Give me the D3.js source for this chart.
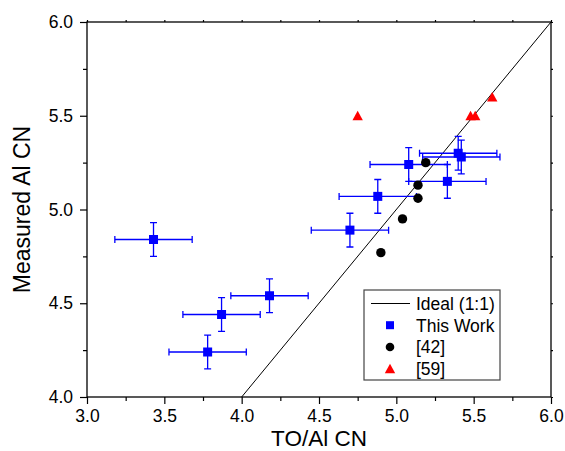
<!DOCTYPE html>
<html>
<head>
<meta charset="utf-8">
<script src="https://cdn.jsdelivr.net/npm/d3@7"></script>
<style>
  html, body { margin: 0; padding: 0; background: #fff; }
  svg { display: block; font-family: "Liberation Sans", Arial, sans-serif; }
</style>
</head>
<body>
<svg id="chart" width="565" height="451"></svg>
<script>
// Measured Al coordination number vs. TO/Al coordination number
const thisWorkX = [3.43, 3.78, 3.87, 4.18, 4.70, 4.88, 5.08, 5.33, 5.40, 5.42];
const thisWorkY = [4.84, 4.24, 4.44, 4.54, 4.89, 5.07, 5.24, 5.15, 5.30, 5.28];
const thisWorkXErr = [0.25, 0.25, 0.25, 0.25, 0.25, 0.25, 0.25, 0.25, 0.25, 0.25];
const thisWorkYErr = [0.09, 0.09, 0.09, 0.09, 0.09, 0.09, 0.09, 0.09, 0.09, 0.09];

const ref42X = [5.19, 5.14, 5.14, 5.04, 4.90];
const ref42Y = [5.25, 5.13, 5.06, 4.95, 4.77];

const ref59X = [4.75, 5.48, 5.51, 5.62];
const ref59Y = [5.50, 5.50, 5.50, 5.60];

const idealX = [4.0, 6.0];
const idealY = [4.0, 6.0];

const majorTicks = [3.0, 3.5, 4.0, 4.5, 5.0, 5.5, 6.0];
const majorTicksY = [4.0, 4.5, 5.0, 5.5, 6.0];
const minorTicksX = [3.25, 3.75, 4.25, 4.75, 5.25, 5.75];
const minorTicksY = [4.25, 4.75, 5.25, 5.75];

const legendLabels = ["Ideal (1:1)", "This Work", "[42]", "[59]"];

(function () {
  const svg = d3.select("#chart");
  const pL = 87, pR = 551, pT = 22, pB = 397;

  const x = d3.scaleLinear().domain([3, 6]).range([pL, pR]);
  const y = d3.scaleLinear().domain([4, 6]).range([pB, pT]);

  const blue = "#0000ff", red = "#ff0000";

  // axes: labelled bottom/left with outward ticks, plain mirrored top/right
  function styleAxis(g) {
    g.select(".domain").remove();
    g.selectAll("line").attr("stroke", "#000").attr("stroke-width", 1.2);
    g.selectAll("text").attr("fill", "#000").attr("font-size", 17.5);
  }

  svg.append("g").attr("transform", `translate(0,${pB})`)
    .call(d3.axisBottom(x).tickValues(majorTicks).tickSize(7).tickPadding(6).tickFormat(d3.format(".1f")))
    .call(styleAxis);
  svg.append("g").attr("transform", `translate(0,${pB})`)
    .call(d3.axisBottom(x).tickValues(minorTicksX).tickSize(4).tickFormat(""))
    .call(styleAxis);
  svg.append("g").attr("transform", `translate(${pL},0)`)
    .call(d3.axisLeft(y).tickValues(majorTicksY).tickSize(7).tickPadding(7).tickFormat(d3.format(".1f")))
    .call(styleAxis);
  svg.append("g").attr("transform", `translate(${pL},0)`)
    .call(d3.axisLeft(y).tickValues(minorTicksY).tickSize(4).tickFormat(""))
    .call(styleAxis);
  svg.append("g").attr("transform", `translate(0,${pT})`)
    .call(d3.axisTop(x).tickValues(majorTicks.concat(minorTicksX)).tickSize(2).tickFormat(""))
    .call(styleAxis);
  svg.append("g").attr("transform", `translate(${pR},0)`)
    .call(d3.axisRight(y).tickValues(majorTicksY.concat(minorTicksY)).tickSize(2).tickFormat(""))
    .call(styleAxis);

  // plot frame
  svg.append("rect")
    .attr("x", pL).attr("y", pT)
    .attr("width", pR - pL).attr("height", pB - pT)
    .attr("fill", "none").attr("stroke", "#000").attr("stroke-width", 1.3);

  // axis titles
  svg.append("text")
    .attr("x", (pL + pR) / 2).attr("y", 446)
    .attr("text-anchor", "middle").attr("font-size", 22.5)
    .text("TO/Al CN");
  svg.append("text")
    .attr("transform", `translate(30,${(pT + pB) / 2}) rotate(-90)`)
    .attr("text-anchor", "middle").attr("font-size", 23)
    .text("Measured Al CN");

  const plot = svg.append("g");

  // ideal 1:1 line
  plot.append("line")
    .attr("x1", x(idealX[0])).attr("y1", y(idealY[0]))
    .attr("x2", x(idealX[1])).attr("y2", y(idealY[1]))
    .attr("stroke", "#000").attr("stroke-width", 1);

  // This Work: squares with x and y error bars
  const tw = thisWorkX.map((v, i) => ({ x: v, y: thisWorkY[i], ex: thisWorkXErr[i], ey: thisWorkYErr[i] }));
  const cap = 3.5;
  const eb = plot.append("g").attr("stroke", blue).attr("stroke-width", 1.3).attr("fill", "none");
  tw.forEach(d => {
    const cx = x(d.x), cy = y(d.y);
    const x0 = x(d.x - d.ex), x1 = x(d.x + d.ex);
    const y0 = y(d.y - d.ey), y1 = y(d.y + d.ey);
    eb.append("path").attr("d",
      `M${x0},${cy}H${x1}` +
      `M${x0},${cy - cap}V${cy + cap}M${x1},${cy - cap}V${cy + cap}` +
      `M${cx},${y0}V${y1}` +
      `M${cx - cap},${y0}H${cx + cap}M${cx - cap},${y1}H${cx + cap}`);
  });
  const sq = 9;
  plot.append("g").selectAll("rect").data(tw).join("rect")
    .attr("x", d => x(d.x) - sq / 2).attr("y", d => y(d.y) - sq / 2)
    .attr("width", sq).attr("height", sq).attr("fill", blue);

  // [42]: black circles
  plot.append("g").selectAll("circle").data(ref42X.map((v, i) => [v, ref42Y[i]])).join("circle")
    .attr("cx", d => x(d[0])).attr("cy", d => y(d[1])).attr("r", 4.7).attr("fill", "#000");

  // [59]: red triangles
  const tri = (cx, cy) => `M${cx},${cy - 5}L${cx + 5.2},${cy + 4.5}L${cx - 5.2},${cy + 4.5}Z`;
  plot.append("g").selectAll("path").data(ref59X.map((v, i) => [v, ref59Y[i]])).join("path")
    .attr("d", d => tri(x(d[0]), y(d[1]))).attr("fill", red);

  // legend
  const lg = svg.append("g");
  lg.append("rect").attr("x", 364).attr("y", 290).attr("width", 136).attr("height", 90)
    .attr("fill", "#fff").attr("stroke", "#444").attr("stroke-width", 1.2);
  const rowY = [303.5, 325.2, 347, 368.7];
  const symX = 390;
  lg.append("line").attr("x1", 371).attr("x2", 410).attr("y1", rowY[0]).attr("y2", rowY[0])
    .attr("stroke", "#000").attr("stroke-width", 1);
  lg.append("rect").attr("x", symX - 4).attr("y", rowY[1] - 4).attr("width", 8).attr("height", 8).attr("fill", blue);
  lg.append("circle").attr("cx", symX).attr("cy", rowY[2]).attr("r", 4.3).attr("fill", "#000");
  lg.append("path").attr("d", tri(symX, rowY[3])).attr("fill", red);
  lg.selectAll("text.lab").data(legendLabels).join("text")
    .attr("class", "lab")
    .attr("x", 416).attr("y", (d, i) => rowY[i] + 6.3)
    .attr("font-size", 17.5).attr("fill", "#000")
    .text(d => d);
})();
</script>
</body>
</html>
